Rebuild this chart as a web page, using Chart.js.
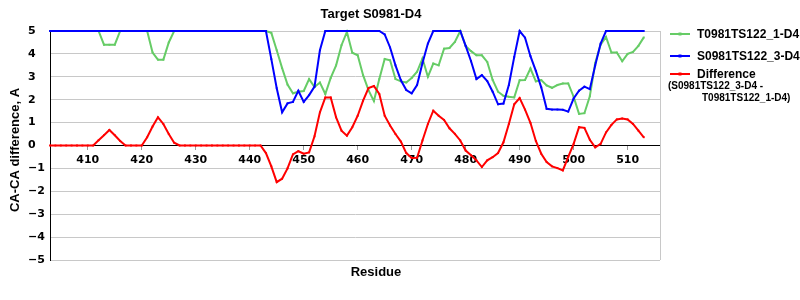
<!DOCTYPE html>
<html lang="en">
<head>
<meta charset="UTF-8">
<title>Target S0981-D4</title>
<script src="https://cdn.jsdelivr.net/npm/chart.js"></script>
<style>
  html, body { margin: 0; padding: 0; background: #fff; }
  #wrap { width: 800px; height: 300px; }
</style>
</head>
<body>
<div id="wrap"><canvas id="chart"></canvas></div>
<script>
// CA-CA distance per residue (403..513)
const firstResidue = 403;

const modelT = [
  5, 5, 5, 5, 5, 5, 5,
  5, 5, 5, 4.4, 4.4, 4.4, 5, 5, 5, 5,
  5, 5, 4.06, 3.75, 3.75, 4.5, 5, 5, 5, 5,
  5, 5, 5, 5, 5, 5, 5, 5, 5, 5,
  5, 5, 5, 5, 4.92, 4.16, 3.38, 2.66, 2.28, 2.35,
  2.38, 2.9, 2.55, 2.75, 2.25, 2.95, 3.5, 4.38, 4.96, 4.05,
  3.94, 3.07, 2.42, 1.94, 2.9, 3.78, 3.72, 2.9, 2.8, 2.75,
  2.95, 3.22, 3.8, 3.0, 3.58, 3.5, 4.23, 4.26, 4.52, 5.0,
  4.35, 4.12, 3.94, 3.94, 3.65, 2.86, 2.35, 2.17, 2.13, 2.1,
  2.85, 2.86, 3.36, 2.8, 2.86, 2.62, 2.52, 2.64, 2.71, 2.71,
  2.13, 1.38, 1.41, 2.15, 3.6, 4.4, 4.74, 4.06, 4.06, 3.68,
  4.0, 4.09, 4.35, 4.72
];

const modelS = [
  5, 5, 5, 5, 5, 5, 5,
  5, 5, 5, 5, 5, 5, 5, 5, 5, 5,
  5, 5, 5, 5, 5, 5, 5, 5, 5, 5,
  5, 5, 5, 5, 5, 5, 5, 5, 5, 5,
  5, 5, 5, 5, 3.77, 2.5, 1.45, 1.84, 1.9, 2.39,
  1.9, 2.2, 2.57, 4.16, 5, 5, 5, 5, 5, 5,
  5, 5, 5, 5, 5, 4.85, 4.28, 3.5, 2.85, 2.42,
  2.28, 2.64, 3.6, 4.45, 5, 5, 5, 5, 5, 5,
  4.35, 3.68, 2.9, 3.07, 2.81, 2.35, 1.8, 1.83, 2.64, 3.87,
  5, 4.71, 3.9, 3.26, 2.54, 1.6, 1.57, 1.57, 1.56, 1.48,
  2.05, 2.39, 2.57, 2.46, 3.5, 4.45, 5, 5, 5, 5,
  5, 5, 5, 5
];

const difference = [
  0, 0, 0, 0, 0, 0, 0,
  0, 0, 0.23, 0.45, 0.68, 0.45, 0.2, 0, 0, 0,
  0, 0.36, 0.83, 1.23, 0.94, 0.5, 0.12, 0, 0, 0,
  0, 0, 0, 0, 0, 0, 0, 0, 0, 0,
  0, 0, 0, -0.33, -0.91, -1.6, -1.45, -1.0, -0.39, -0.25,
  -0.36, -0.3, 0.4, 1.45, 2.1, 2.1, 1.23, 0.65, 0.43, 0.8,
  1.3, 1.96, 2.51, 2.6, 2.25, 1.3, 0.87, 0.5, 0.17, -0.33,
  -0.55, -0.54, 0.22, 0.94, 1.52, 1.3, 1.12, 0.75, 0.51, 0.22,
  -0.22, -0.43, -0.65, -0.94, -0.65, -0.51, -0.33, 0.14, 0.94, 1.8,
  2.07, 1.57, 0.99, 0.2, -0.36, -0.72, -0.91, -0.99, -1.09, -0.5,
  0.07, 0.8, 0.77, 0.25, -0.08, 0.07, 0.57, 0.9, 1.14, 1.18,
  1.14, 0.94, 0.65, 0.36
];

const residues = modelT.map((_, i) => firstResidue + i);
const xTicks = [410, 420, 430, 440, 450, 460, 470, 480, 490, 500, 510];
const seriesNames = ['T0981TS122_1-D4', 'S0981TS122_3-D4', 'Difference'];
const diffNote = ['(S0981TS122_3-D4 -', 'T0981TS122_1-D4)'];

const chartTitle = 'Target S0981-D4';
const xTitle = 'Residue';
const yTitle = 'CA-CA difference, A';

const colors = ['#66cc66', '#0000ff', '#ff0000'];
const BOLD = 'bold 12px "Liberation Sans", Arial, sans-serif';

function points(values) {
  return values.map((v, i) => ({ x: residues[i], y: v }));
}

// frame, titles and the legend (the third entry has a two-line note under it)
const decorations = {
  id: 'decorations',
  beforeDatasetsDraw(chart) {
    const { ctx, chartArea } = chart;
    ctx.save();
    ctx.strokeStyle = '#c8c8c8';
    ctx.lineWidth = 1;
    ctx.beginPath();
    ctx.moveTo(Math.round(chartArea.right) + 0.5, chartArea.top);
    ctx.lineTo(Math.round(chartArea.right) + 0.5, chartArea.bottom);
    ctx.stroke();
    ctx.restore();
  },
  afterDraw(chart) {
    const { ctx } = chart;
    ctx.save();
    ctx.fillStyle = '#000';
    ctx.textBaseline = 'middle';
    ctx.textAlign = 'center';
    ctx.font = 'bold 13px "Liberation Sans", Arial, sans-serif';
    ctx.fillText(chartTitle, 371, 14);
    ctx.fillText(xTitle, 376, 272);
    ctx.save();
    ctx.translate(15, 150);
    ctx.rotate(-Math.PI / 2);
    ctx.fillText(yTitle, 0, 0);
    ctx.restore();

    const rows = [34, 56, 74];
    ctx.textAlign = 'left';
    chart.data.datasets.forEach((ds, i) => {
      const y = rows[i];
      ctx.strokeStyle = ds.borderColor;
      ctx.lineWidth = 2;
      ctx.beginPath();
      ctx.moveTo(670, y);
      ctx.lineTo(690, y);
      ctx.stroke();
      ctx.fillStyle = ds.borderColor;
      ctx.fillRect(678.5, y - 1.5, 3, 3);
      ctx.fillStyle = '#000';
      ctx.font = BOLD;
      ctx.fillText(ds.label, 697, y + 0.5);
    });
    ctx.font = 'bold 10px "Liberation Sans", Arial, sans-serif';
    ctx.fillText(diffNote[0], 668, 86);
    ctx.fillText(diffNote[1], 702, 98);
    ctx.restore();
  }
};

new Chart(document.getElementById('chart'), {
  type: 'line',
  data: {
    datasets: [
      { label: seriesNames[0], data: points(modelT), borderColor: colors[0], backgroundColor: colors[0], order: 2, clip: 4 },
      { label: seriesNames[1], data: points(modelS), borderColor: colors[1], backgroundColor: colors[1], order: 1, clip: 4 },
      { label: seriesNames[2], data: points(difference), borderColor: colors[2], backgroundColor: colors[2], order: 0, clip: 4 }
    ]
  },
  options: {
    responsive: true,
    maintainAspectRatio: false,
    animation: false,
    layout: { padding: { left: 28, top: 31, right: 140, bottom: 40 } },
    elements: {
      line: { borderWidth: 2, tension: 0 },
      point: { radius: 1.3, borderWidth: 0, pointStyle: 'rect', hoverRadius: 2 }
    },
    plugins: {
      legend: { display: false },
      title: { display: false },
      tooltip: { enabled: false }
    },
    scales: {
      x: {
        type: 'linear',
        position: { y: 0 },
        min: 403,
        max: 516,
        afterBuildTicks: scale => { scale.ticks = xTicks.map(v => ({ value: v })); },
        grid: { drawOnChartArea: false, drawTicks: true, tickLength: 4, color: '#999' },
        border: { display: true, color: '#000', width: 1 },
        ticks: {
          padding: 4,
          maxRotation: 0,
          autoSkip: false,
          color: '#000',
          font: { family: '"DejaVu Sans", sans-serif', size: 11, weight: 'bold' }
        }
      },
      y: {
        position: 'left',
        min: -5,
        max: 5,
        afterFit: scale => { scale.width = 22; },
        grid: { color: '#c8c8c8', drawTicks: false },
        border: { display: true, color: '#000', width: 1 },
        ticks: {
          stepSize: 1,
          padding: 0,
          crossAlign: 'far',
          color: '#000',
          font: { family: '"DejaVu Sans", sans-serif', size: 11, weight: 'bold' },
          callback: v => String(v).replace('-', '\u2212')
        }
      }
    }
  },
  plugins: [decorations]
});
</script>
</body>
</html>
